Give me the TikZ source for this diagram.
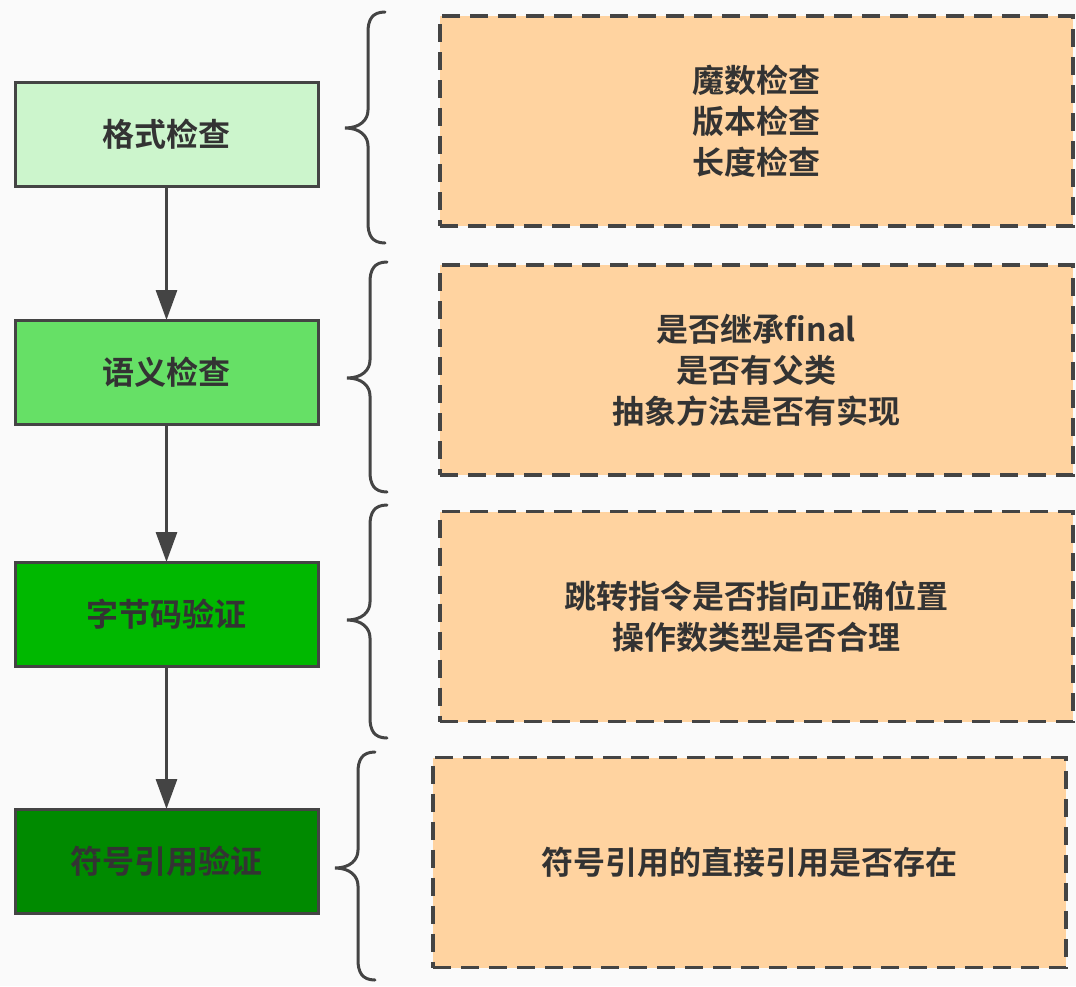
\documentclass[tikz,border=0pt]{standalone}
\usepackage{fontspec}
\setmainfont{Noto Sans CJK SC}[BoldFont={Noto Sans CJK SC Bold}]
\usetikzlibrary{arrows.meta}
\definecolor{bg}{HTML}{FAFAFA}
\definecolor{edge}{HTML}{444444}
\definecolor{txt}{HTML}{333333}
\definecolor{gA}{HTML}{CCF5CC}
\definecolor{gB}{HTML}{66E066}
\definecolor{gC}{HTML}{00B800}
\definecolor{gD}{HTML}{008A00}
\definecolor{org}{HTML}{FFD3A0}
\newcommand{\mybrace}[4]{%
  \draw[bracestyle] (#1+17,#2) .. controls (#1+4,#2) and (#1,#2+8) .. (#1,#2+20)
    -- (#1,#3-18) .. controls (#1,#3-8) and (#1-8,#3) .. (#1-23,#3)
    .. controls (#1-8,#3) and (#1,#3+8) .. (#1,#3+18)
    -- (#1,#4-20) .. controls (#1,#4-8) and (#1+4,#4) .. (#1+17,#4);}
\tikzset{
  stage/.style={draw=edge, line width=3pt, minimum width=303pt, minimum height=104pt,
    inner sep=0pt, outer sep=0pt, font=\fontsize{32}{38}\selectfont\bfseries, text=txt},
  detail/.style={draw=edge, fill=org, line width=3.5pt, dash pattern=on 18pt off 10pt,
    minimum width=633pt, minimum height=210pt, inner sep=0pt, outer sep=0pt,
    align=center, font=\fontsize{32}{41}\selectfont\bfseries, text=txt},
  flow/.style={draw=edge, line width=3pt, -{Triangle[length=30pt,width=21pt]}},
  bracestyle/.style={draw=edge, line width=3pt, line cap=round}
}
\begin{document}
\begin{tikzpicture}[x=1pt,y=-1pt]
\fill[bg] (0,0) rectangle (1076,986);
\useasboundingbox (0,0) rectangle (1076,986);
% stages
\node[stage, fill=gA] (s1) at (166.5,134) {格式检查};
\node[stage, fill=gB] (s2) at (166.5,372) {语义检查};
\node[stage, fill=gC] (s3) at (166.5,614) {字节码验证};
\node[stage, fill=gD] (s4) at (166.5,861) {符号引用验证};
\draw[flow] (s1) -- (s2);
\draw[flow] (s2) -- (s3);
\draw[flow] (s3) -- (s4);
% braces
\mybrace{368}{12}{128}{243}
\mybrace{370}{262}{378}{492}
\mybrace{370}{505}{620}{738}
\mybrace{358}{752}{868}{980}
% details
\node[detail] (d1) at (756.5,121) {魔数检查\\版本检查\\长度检查};
\node[detail] (d2) at (756.5,370) {是否继承final\\是否有父类\\抽象方法是否有实现};
\node[detail] (d3) at (756.5,616.5) {跳转指令是否指向正确位置\\操作数类型是否合理};
\node[detail] (d4) at (749.5,862.5) {符号引用的直接引用是否存在};
\end{tikzpicture}
\end{document}
